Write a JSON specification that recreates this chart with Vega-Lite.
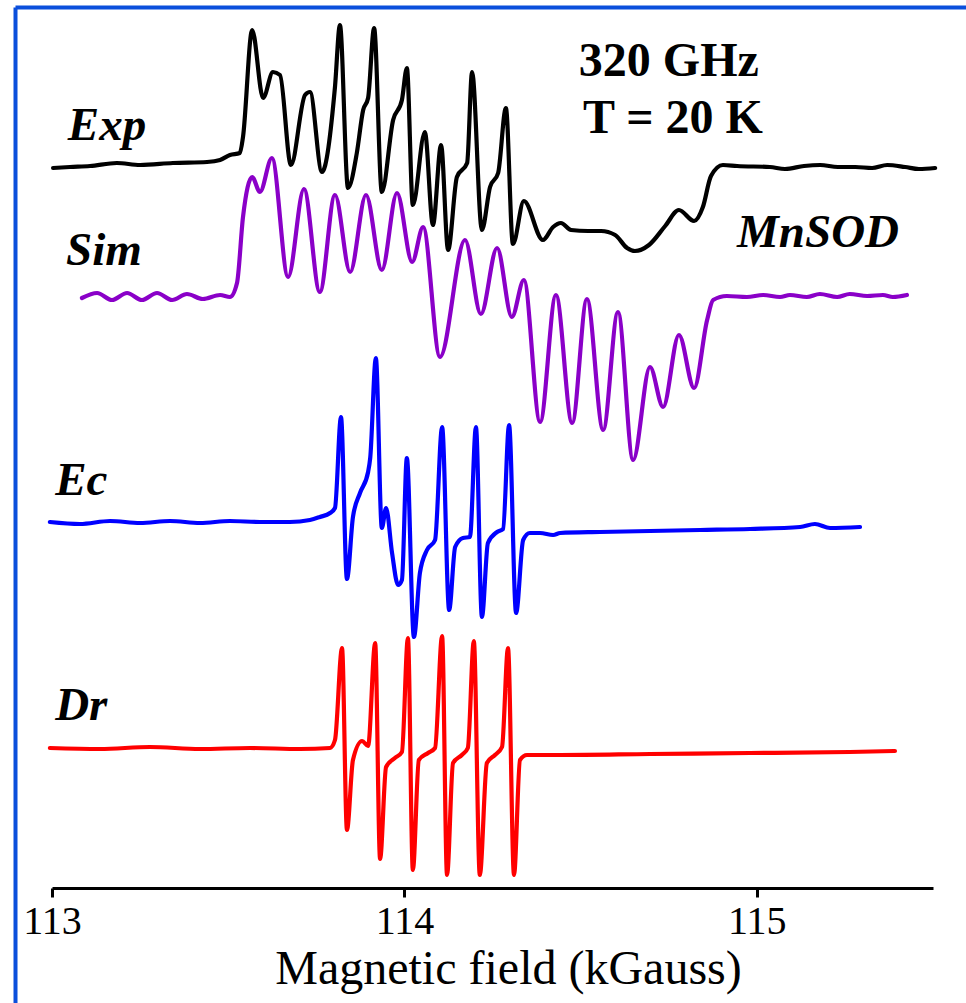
{
  "$schema": "https://vega.github.io/schema/vega-lite/v6.json",
  "width": 951,
  "height": 996,
  "autosize": {"type": "none"},
  "padding": {"left": 15, "top": 7, "right": 0, "bottom": 0},
  "background": "white",
  "config": {
    "view": {"stroke": null},
    "axisY": {"domain": true, "domainColor": "#0b4fdc", "domainWidth": 4, "ticks": false, "labels": false, "grid": false}
  },
  "datasets": {
    "spectra": [
      {"trace":"Exp","field":113.003,"intensity":835},{"trace":"Exp","field":113.051,"intensity":836},{"trace":"Exp","field":113.108,"intensity":837},{"trace":"Exp","field":113.184,"intensity":840},{"trace":"Exp","field":113.250,"intensity":838},{"trace":"Exp","field":113.343,"intensity":840},{"trace":"Exp","field":113.440,"intensity":841},{"trace":"Exp","field":113.477,"intensity":843},{"trace":"Exp","field":113.505,"intensity":848},{"trace":"Exp","field":113.533,"intensity":850},{"trace":"Exp","field":113.542,"intensity":866},{"trace":"Exp","field":113.568,"intensity":973},{"trace":"Exp","field":113.599,"intensity":905},{"trace":"Exp","field":113.627,"intensity":931},{"trace":"Exp","field":113.647,"intensity":928},{"trace":"Exp","field":113.678,"intensity":838},{"trace":"Exp","field":113.718,"intensity":908},{"trace":"Exp","field":113.732,"intensity":911},{"trace":"Exp","field":113.766,"intensity":831},{"trace":"Exp","field":113.803,"intensity":916},{"trace":"Exp","field":113.817,"intensity":978},{"trace":"Exp","field":113.840,"intensity":815},{"trace":"Exp","field":113.865,"intensity":850},{"trace":"Exp","field":113.883,"intensity":893},{"trace":"Exp","field":113.897,"intensity":905},{"trace":"Exp","field":113.914,"intensity":975},{"trace":"Exp","field":113.936,"intensity":811},{"trace":"Exp","field":113.968,"intensity":883},{"trace":"Exp","field":113.993,"intensity":903},{"trace":"Exp","field":114.007,"intensity":935},{"trace":"Exp","field":114.024,"intensity":798},{"trace":"Exp","field":114.058,"intensity":871},{"trace":"Exp","field":114.081,"intensity":778},{"trace":"Exp","field":114.104,"intensity":858},{"trace":"Exp","field":114.124,"intensity":753},{"trace":"Exp","field":114.149,"intensity":826},{"trace":"Exp","field":114.178,"intensity":840},{"trace":"Exp","field":114.192,"intensity":931},{"trace":"Exp","field":114.220,"intensity":773},{"trace":"Exp","field":114.243,"intensity":816},{"trace":"Exp","field":114.266,"intensity":830},{"trace":"Exp","field":114.288,"intensity":895},{"trace":"Exp","field":114.308,"intensity":759},{"trace":"Exp","field":114.339,"intensity":802},{"trace":"Exp","field":114.393,"intensity":763},{"trace":"Exp","field":114.422,"intensity":776},{"trace":"Exp","field":114.444,"intensity":780},{"trace":"Exp","field":114.473,"intensity":773},{"trace":"Exp","field":114.521,"intensity":772},{"trace":"Exp","field":114.558,"intensity":772},{"trace":"Exp","field":114.598,"intensity":768},{"trace":"Exp","field":114.632,"intensity":755},{"trace":"Exp","field":114.654,"intensity":752},{"trace":"Exp","field":114.694,"intensity":758},{"trace":"Exp","field":114.740,"intensity":777},{"trace":"Exp","field":114.779,"intensity":793},{"trace":"Exp","field":114.822,"intensity":782},{"trace":"Exp","field":114.847,"intensity":796},{"trace":"Exp","field":114.870,"intensity":827},{"trace":"Exp","field":114.904,"intensity":838},{"trace":"Exp","field":114.944,"intensity":837},{"trace":"Exp","field":115.037,"intensity":836},{"trace":"Exp","field":115.080,"intensity":834},{"trace":"Exp","field":115.134,"intensity":837},{"trace":"Exp","field":115.180,"intensity":838},{"trace":"Exp","field":115.230,"intensity":836},{"trace":"Exp","field":115.280,"intensity":836},{"trace":"Exp","field":115.327,"intensity":835},{"trace":"Exp","field":115.370,"intensity":838},{"trace":"Exp","field":115.421,"intensity":836},{"trace":"Exp","field":115.460,"intensity":834},{"trace":"Exp","field":115.506,"intensity":835},
      {"trace":"Sim","field":113.085,"intensity":705},{"trace":"Sim","field":113.128,"intensity":710},{"trace":"Sim","field":113.170,"intensity":703},{"trace":"Sim","field":113.213,"intensity":710},{"trace":"Sim","field":113.255,"intensity":703},{"trace":"Sim","field":113.298,"intensity":710},{"trace":"Sim","field":113.341,"intensity":703},{"trace":"Sim","field":113.383,"intensity":709},{"trace":"Sim","field":113.428,"intensity":704},{"trace":"Sim","field":113.477,"intensity":708},{"trace":"Sim","field":113.505,"intensity":706},{"trace":"Sim","field":113.525,"intensity":720},{"trace":"Sim","field":113.542,"intensity":786},{"trace":"Sim","field":113.568,"intensity":826},{"trace":"Sim","field":113.590,"intensity":811},{"trace":"Sim","field":113.624,"intensity":845},{"trace":"Sim","field":113.670,"intensity":726},{"trace":"Sim","field":113.715,"intensity":814},{"trace":"Sim","field":113.760,"intensity":711},{"trace":"Sim","field":113.803,"intensity":808},{"trace":"Sim","field":113.846,"intensity":731},{"trace":"Sim","field":113.891,"intensity":808},{"trace":"Sim","field":113.936,"intensity":733},{"trace":"Sim","field":113.979,"intensity":810},{"trace":"Sim","field":114.022,"intensity":741},{"trace":"Sim","field":114.053,"intensity":776},{"trace":"Sim","field":114.101,"intensity":646},{"trace":"Sim","field":114.172,"intensity":763},{"trace":"Sim","field":114.217,"intensity":689},{"trace":"Sim","field":114.263,"intensity":755},{"trace":"Sim","field":114.305,"intensity":686},{"trace":"Sim","field":114.339,"intensity":723},{"trace":"Sim","field":114.385,"intensity":581},{"trace":"Sim","field":114.430,"intensity":708},{"trace":"Sim","field":114.476,"intensity":580},{"trace":"Sim","field":114.518,"intensity":704},{"trace":"Sim","field":114.564,"intensity":573},{"trace":"Sim","field":114.606,"intensity":691},{"trace":"Sim","field":114.649,"intensity":543},{"trace":"Sim","field":114.697,"intensity":636},{"trace":"Sim","field":114.734,"intensity":596},{"trace":"Sim","field":114.779,"intensity":668},{"trace":"Sim","field":114.822,"intensity":615},{"trace":"Sim","field":114.859,"intensity":683},{"trace":"Sim","field":114.876,"intensity":703},{"trace":"Sim","field":114.915,"intensity":707},{"trace":"Sim","field":114.972,"intensity":706},{"trace":"Sim","field":115.018,"intensity":708},{"trace":"Sim","field":115.066,"intensity":706},{"trace":"Sim","field":115.094,"intensity":708},{"trace":"Sim","field":115.142,"intensity":706},{"trace":"Sim","field":115.179,"intensity":709},{"trace":"Sim","field":115.228,"intensity":706},{"trace":"Sim","field":115.264,"intensity":709},{"trace":"Sim","field":115.313,"intensity":707},{"trace":"Sim","field":115.358,"intensity":708},{"trace":"Sim","field":115.386,"intensity":706},{"trace":"Sim","field":115.426,"intensity":708},
      {"trace":"Ec","field":112.994,"intensity":481},{"trace":"Ec","field":113.079,"intensity":479},{"trace":"Ec","field":113.165,"intensity":482},{"trace":"Ec","field":113.250,"intensity":480},{"trace":"Ec","field":113.335,"intensity":482},{"trace":"Ec","field":113.420,"intensity":480},{"trace":"Ec","field":113.505,"intensity":482},{"trace":"Ec","field":113.590,"intensity":481},{"trace":"Ec","field":113.675,"intensity":481},{"trace":"Ec","field":113.732,"intensity":483},{"trace":"Ec","field":113.760,"intensity":486},{"trace":"Ec","field":113.789,"intensity":490},{"trace":"Ec","field":113.803,"intensity":495},{"trace":"Ec","field":113.820,"intensity":586},{"trace":"Ec","field":113.837,"intensity":424},{"trace":"Ec","field":113.854,"intensity":486},{"trace":"Ec","field":113.874,"intensity":510},{"trace":"Ec","field":113.897,"intensity":531},{"trace":"Ec","field":113.903,"intensity":545},{"trace":"Ec","field":113.919,"intensity":645},{"trace":"Ec","field":113.936,"intensity":475},{"trace":"Ec","field":113.948,"intensity":495},{"trace":"Ec","field":113.965,"intensity":450},{"trace":"Ec","field":113.982,"intensity":418},{"trace":"Ec","field":113.993,"intensity":423},{"trace":"Ec","field":114.007,"intensity":545},{"trace":"Ec","field":114.027,"intensity":366},{"trace":"Ec","field":114.044,"intensity":430},{"trace":"Ec","field":114.064,"intensity":453},{"trace":"Ec","field":114.087,"intensity":463},{"trace":"Ec","field":114.107,"intensity":576},{"trace":"Ec","field":114.127,"intensity":393},{"trace":"Ec","field":114.144,"intensity":456},{"trace":"Ec","field":114.166,"intensity":465},{"trace":"Ec","field":114.186,"intensity":466},{"trace":"Ec","field":114.203,"intensity":576},{"trace":"Ec","field":114.220,"intensity":386},{"trace":"Ec","field":114.237,"intensity":460},{"trace":"Ec","field":114.263,"intensity":471},{"trace":"Ec","field":114.280,"intensity":474},{"trace":"Ec","field":114.297,"intensity":578},{"trace":"Ec","field":114.317,"intensity":390},{"trace":"Ec","field":114.337,"intensity":463},{"trace":"Ec","field":114.356,"intensity":470},{"trace":"Ec","field":114.385,"intensity":470},{"trace":"Ec","field":114.422,"intensity":468},{"trace":"Ec","field":114.442,"intensity":470},{"trace":"Ec","field":114.555,"intensity":471},{"trace":"Ec","field":114.697,"intensity":472},{"trace":"Ec","field":114.839,"intensity":473},{"trace":"Ec","field":114.981,"intensity":474},{"trace":"Ec","field":115.123,"intensity":476},{"trace":"Ec","field":115.165,"intensity":479},{"trace":"Ec","field":115.208,"intensity":475},{"trace":"Ec","field":115.293,"intensity":476},
      {"trace":"Dr","field":112.994,"intensity":255},{"trace":"Dr","field":113.136,"intensity":254},{"trace":"Dr","field":113.278,"intensity":256},{"trace":"Dr","field":113.420,"intensity":254},{"trace":"Dr","field":113.562,"intensity":255},{"trace":"Dr","field":113.704,"intensity":254},{"trace":"Dr","field":113.789,"intensity":255},{"trace":"Dr","field":113.803,"intensity":263},{"trace":"Dr","field":113.823,"intensity":355},{"trace":"Dr","field":113.837,"intensity":173},{"trace":"Dr","field":113.854,"intensity":243},{"trace":"Dr","field":113.880,"intensity":262},{"trace":"Dr","field":113.897,"intensity":257},{"trace":"Dr","field":113.917,"intensity":360},{"trace":"Dr","field":113.931,"intensity":144},{"trace":"Dr","field":113.948,"intensity":236},{"trace":"Dr","field":113.973,"intensity":245},{"trace":"Dr","field":113.993,"intensity":251},{"trace":"Dr","field":114.010,"intensity":365},{"trace":"Dr","field":114.024,"intensity":133},{"trace":"Dr","field":114.041,"intensity":243},{"trace":"Dr","field":114.067,"intensity":250},{"trace":"Dr","field":114.087,"intensity":255},{"trace":"Dr","field":114.107,"intensity":367},{"trace":"Dr","field":114.121,"intensity":128},{"trace":"Dr","field":114.138,"intensity":240},{"trace":"Dr","field":114.163,"intensity":248},{"trace":"Dr","field":114.180,"intensity":255},{"trace":"Dr","field":114.197,"intensity":362},{"trace":"Dr","field":114.214,"intensity":128},{"trace":"Dr","field":114.234,"intensity":240},{"trace":"Dr","field":114.257,"intensity":248},{"trace":"Dr","field":114.277,"intensity":256},{"trace":"Dr","field":114.294,"intensity":355},{"trace":"Dr","field":114.311,"intensity":128},{"trace":"Dr","field":114.328,"intensity":243},{"trace":"Dr","field":114.348,"intensity":248},{"trace":"Dr","field":114.385,"intensity":248},{"trace":"Dr","field":114.442,"intensity":248},{"trace":"Dr","field":114.697,"intensity":249},{"trace":"Dr","field":114.981,"intensity":250},{"trace":"Dr","field":115.264,"intensity":251},{"trace":"Dr","field":115.392,"intensity":252}
    ],
    "traceLabels": [
      {"text":"Exp","field":113.045,"intensity":863},
      {"text":"Sim","field":113.040,"intensity":738},
      {"text":"Ec","field":113.009,"intensity":508},
      {"text":"Dr","field":113.009,"intensity":283},
      {"text":"MnSOD","field":114.944,"intensity":756}
    ],
    "conditions": [
      {"text":"320 GHz","field":114.495,"intensity":927},
      {"text":"T = 20 K","field":114.507,"intensity":870}
    ]
  },
  "resolve": {"scale": {"x": "independent"}, "axis": {"x": "independent"}},
  "layer": [
    {
      "data": {"name": "spectra"},
      "mark": {"type": "line", "interpolate": "monotone", "strokeWidth": 4.2, "strokeJoin": "round", "strokeCap": "round"},
      "encoding": {
        "x": {
          "field": "field", "type": "quantitative",
          "scale": {"domain": [113, 115.5], "range": [37, 918], "nice": false, "zero": false},
          "axis": {
            "orient": "bottom", "offset": -115,
            "values": [113, 113.5, 114, 114.5, 115, 115.5],
            "format": "d",
            "labelExpr": "datum.value % 1 === 0 ? datum.label : ''",
            "domain": true, "domainColor": "black", "domainWidth": 3,
            "ticks": true, "tickColor": "black", "tickWidth": 3, "tickSize": 9,
            "grid": false,
            "labelFont": "Liberation Serif, Times New Roman, DejaVu Serif, serif", "labelFontSize": 40, "labelColor": "black", "labelPadding": 4,
            "labelFlush": false, "labelOverlap": false,
            "title": "Magnetic field (kGauss)",
            "titleFont": "Liberation Serif, Times New Roman, DejaVu Serif, serif", "titleFontSize": 48, "titleFontWeight": "normal", "titleColor": "black",
            "titleX": 493, "titleY": 95, "titleBaseline": "alphabetic", "titleAlign": "center"
          }
        },
        "y": {"field": "intensity", "type": "quantitative", "title": null, "scale": {"domain": [0, 996], "nice": false, "zero": false}},
        "color": {
          "field": "trace", "type": "nominal",
          "scale": {"domain": ["Exp", "Sim", "Ec", "Dr"], "range": ["#000000", "#8a00c8", "#0000ff", "#ff0000"]},
          "legend": null
        }
      }
    },
    {
      "data": {"name": "traceLabels"},
      "mark": {"type": "text", "font": "Liberation Serif, Times New Roman, DejaVu Serif, serif", "fontSize": 47, "fontWeight": "bold", "fontStyle": "italic", "align": "left", "baseline": "alphabetic", "color": "black"},
      "encoding": {
        "x": {"field": "field", "type": "quantitative", "scale": {"domain": [113, 115.5], "range": [37, 918], "nice": false, "zero": false}, "axis": null},
        "y": {"field": "intensity", "type": "quantitative", "title": null},
        "text": {"field": "text"}
      }
    },
    {
      "data": {"name": "conditions"},
      "mark": {"type": "text", "font": "Liberation Serif, Times New Roman, DejaVu Serif, serif", "fontSize": 48, "fontWeight": "bold", "align": "left", "baseline": "alphabetic", "color": "black"},
      "encoding": {
        "x": {"field": "field", "type": "quantitative", "scale": {"domain": [113, 115.5], "range": [37, 918], "nice": false, "zero": false}, "axis": null},
        "y": {"field": "intensity", "type": "quantitative", "title": null},
        "text": {"field": "text"}
      }
    },
    {
      "data": {"values": []},
      "mark": "rule",
      "encoding": {
        "x": {
          "field": "b", "type": "quantitative", "scale": {"domain": [0, 1]},
          "axis": {"orient": "top", "domain": true, "domainColor": "#0b4fdc", "domainWidth": 4, "ticks": false, "labels": false, "grid": false, "title": null}
        }
      }
    }
  ]
}
